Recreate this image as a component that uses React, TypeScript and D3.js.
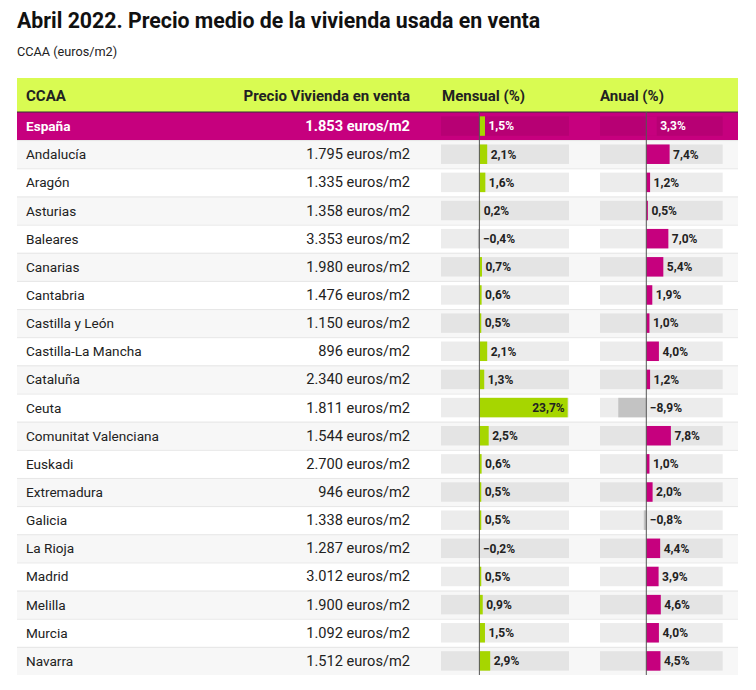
import React from "react";
import * as d3 from "d3";

const regions = ["España","Andalucía","Aragón","Asturias","Baleares","Canarias","Cantabria","Castilla y León","Castilla-La Mancha","Cataluña","Ceuta","Comunitat Valenciana","Euskadi","Extremadura","Galicia","La Rioja","Madrid","Melilla","Murcia","Navarra"];
const prices = [1853,1795,1335,1358,3353,1980,1476,1150,896,2340,1811,1544,2700,946,1338,1287,3012,1900,1092,1512];
const monthly = [1.5,2.1,1.6,0.2,-0.4,0.7,0.6,0.5,2.1,1.3,23.7,2.5,0.6,0.5,0.5,-0.2,0.5,0.9,1.5,2.9];
const annual = [3.3,7.4,1.2,0.5,7.0,5.4,1.9,1.0,4.0,1.2,-8.9,7.8,1.0,2.0,-0.8,4.4,3.9,4.6,4.0,4.5];
const headers = ["CCAA","Precio Vivienda en venta","Mensual (%)","Anual (%)"];
const title = "Abril 2022. Precio medio de la vivienda usada en venta";
const subtitle = "CCAA (euros/m2)";

const locale = d3.formatLocale({ decimal: ",", thousands: ".", grouping: [3], currency: ["", "€"], minus: "−" });
const fmtInt = locale.format(",d");
const fmtPct = locale.format(".1f");

const W = 756, H = 690;
const X0 = 17, X1 = 738;
const HEAD_TOP = 78, HEAD_BOT = 112;
const ROW_H = 28.15;
const BAR_H = 19.5;
const FONT = "Roboto, 'Noto Sans', Arial, sans-serif";
const LIME = "#d9fb52";
const MAGENTA = "#c6007e";
const GREEN = "#a6d600";
const NEG = "#c3c3c3";
const TXT = "#222";

export default function App() {
  const y = d3.scaleBand<number>().domain(d3.range(regions.length)).range([HEAD_BOT, HEAD_BOT + ROW_H * regions.length]).padding(0);
  const xm = d3.scaleLinear().domain([-10.3, 24.05]).range([441, 569]);
  const xa = d3.scaleLinear().domain([-14.7, 24.25]).range([600, 722.7]);
  const tableBottom = HEAD_BOT + ROW_H * regions.length;

  const barCell = (v: number, i: number, x: d3.ScaleLinear<number, number>, posColor: string, isTotal: boolean) => {
    const yc = (y(i) as number) + ROW_H / 2;
    const z = x(0);
    const xv = x(v);
    const [lo, hi] = x.range();
    const label = fmtPct(v) + "%";
    const estW = label.length * 6.6;
    let tx = v >= 0 ? xv + 3.5 : z + 3.5;
    let anchor: "start" | "end" = "start";
    if (v >= 0 && tx + estW > hi) { tx = xv - 3; anchor = "end"; }
    return (
      <g>
        <rect x={lo} y={yc - BAR_H / 2} width={hi - lo} height={BAR_H} fill="#000" fillOpacity={0.075} />
        <rect x={Math.min(z, xv)} y={yc - BAR_H / 2} width={Math.abs(xv - z)} height={BAR_H} fill={v >= 0 ? posColor : NEG} />
        <text x={tx} y={yc + 4.3} textAnchor={anchor} fontSize={12} fontWeight={700} fill={isTotal ? "#fff" : TXT}>{label}</text>
      </g>
    );
  };

  return (
    <svg width={W} height={H} style={{ position: "absolute", left: 0, top: 0, fontFamily: FONT }}>
      <rect width={W} height={H} fill="#fff" />
      <text x={17} y={28} fontSize={21.3} fontWeight={700} fill="#111">{title}</text>
      <text x={17} y={56} fontSize={12.7} fill={TXT}>{subtitle}</text>

      <rect x={X0} y={HEAD_TOP} width={X1 - X0} height={HEAD_BOT - HEAD_TOP} fill={LIME} />
      <text x={26} y={100.5} fontSize={15} fontWeight={700} fill={TXT}>{headers[0]}</text>
      <text x={410} y={100.5} fontSize={15} fontWeight={700} fill={TXT} textAnchor="end">{headers[1]}</text>
      <text x={442} y={100.5} fontSize={15} fontWeight={700} fill={TXT}>{headers[2]}</text>
      <text x={600} y={100.5} fontSize={15} fontWeight={700} fill={TXT}>{headers[3]}</text>

      {regions.map((r, i) => {
        const top = y(i) as number;
        const isTotal = i === 0;
        const bg = isTotal ? MAGENTA : i % 2 === 1 ? "#f7f7f7" : "#fff";
        const tc = isTotal ? "#fff" : TXT;
        return (
          <g key={r}>
            <rect x={X0} y={top} width={X1 - X0} height={ROW_H} fill={bg} />
            {!isTotal && <line x1={X0} x2={X1} y1={top + 0.5} y2={top + 0.5} stroke="#e6e6e6" />}
            <text x={26} y={top + ROW_H / 2 + 5} fontSize={13.6} fontWeight={isTotal ? 700 : 400} fill={tc}>{r}</text>
            <text x={410} y={top + ROW_H / 2 + 5} fontSize={14.6} fontWeight={isTotal ? 700 : 400} fill={tc} textAnchor="end">{fmtInt(prices[i]) + " euros/m2"}</text>
            {barCell(monthly[i], i, xm, GREEN, isTotal)}
            {barCell(annual[i], i, xa, MAGENTA, isTotal)}
          </g>
        );
      })}
      <line x1={X0} x2={X1} y1={HEAD_BOT} y2={HEAD_BOT} stroke="#333" strokeWidth={1.2} />
      <line x1={xm(0)} x2={xm(0)} y1={HEAD_BOT} y2={tableBottom} stroke="#555" strokeWidth={1} />
      <line x1={xa(0)} x2={xa(0)} y1={HEAD_BOT} y2={tableBottom} stroke="#555" strokeWidth={1} />
    </svg>
  );
}
